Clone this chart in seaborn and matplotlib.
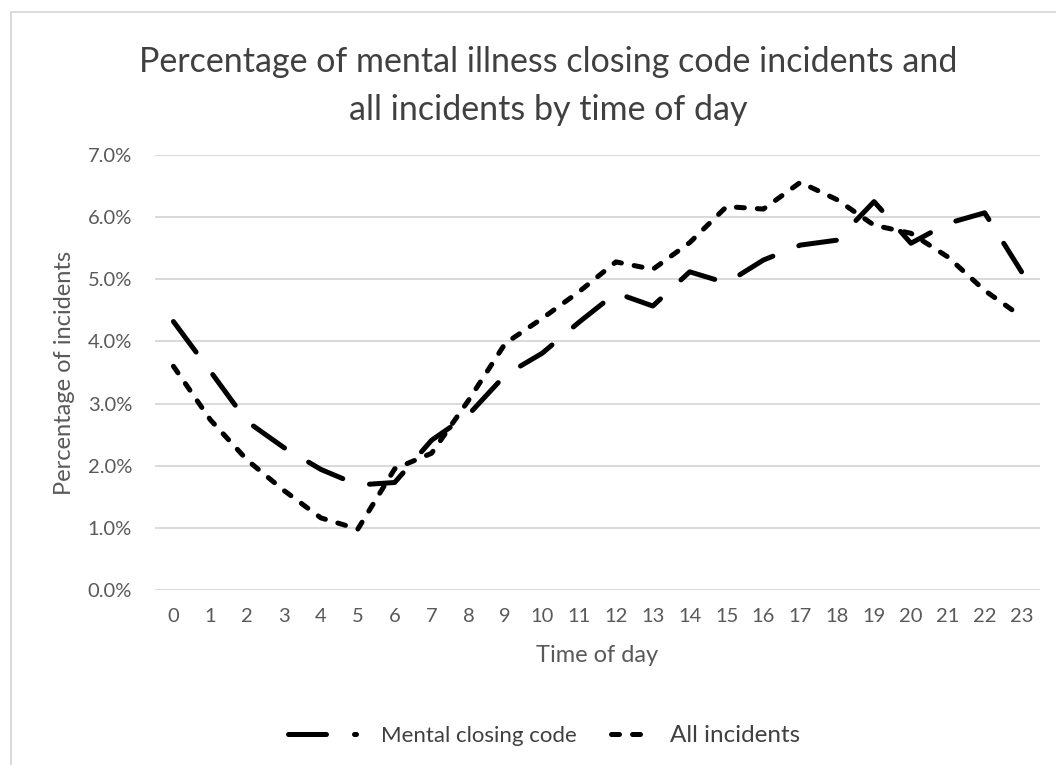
import matplotlib.pyplot as plt
import matplotlib.patches as patches
import pandas as pd
import seaborn as sns
from matplotlib.lines import Line2D
from matplotlib.ticker import PercentFormatter

# hourly share of incidents (%)
hours = list(range(24))
mental = [4.32, 3.52, 2.71, 2.29, 1.94, 1.69, 1.73, 2.41, 2.82, 3.46, 3.81, 4.31,
          4.78, 4.57, 5.12, 4.94, 5.31, 5.55, 5.63, 6.25, 5.58, 5.90, 6.07, 5.12]
all_incidents = [3.60, 2.74, 2.09, 1.60, 1.16, 0.98, 1.95, 2.20, 3.05, 3.97, 4.37, 4.80,
                 5.28, 5.16, 5.59, 6.17, 6.13, 6.56, 6.28, 5.87, 5.74, 5.36, 4.82, 4.40]
series_names = ["Mental closing code", "All incidents"]
y_ticks = [0, 1, 2, 3, 4, 5, 6, 7]

title = "Percentage of mental illness closing code incidents and\nall incidents by time of day"

grey = "#595959"
dark = "#404040"
grid = "#d9d9d9"
lw = 3.6


def main():
    df = pd.concat([
        pd.DataFrame({"hour": hours, "pct": mental, "series": series_names[0]}),
        pd.DataFrame({"hour": hours, "pct": all_incidents, "series": series_names[1]}),
    ])

    sns.set_style("white")
    plt.rcParams["font.family"] = ["Lato", "DejaVu Sans"]

    fig = plt.figure(figsize=(10.56, 7.65), dpi=100)
    ax = fig.add_axes([155 / 1056, 1 - 590 / 765, 885 / 1056, 435 / 765])

    sns.lineplot(
        data=df, x="hour", y="pct", style="series", style_order=series_names,
        dashes={series_names[0]: (7.6, 5.6), series_names[1]: (1.6, 2.6)},
        color="black", lw=lw, legend=False, ax=ax,
    )
    for line in ax.lines:
        line.set_dash_capstyle("round")
        line.set_dash_joinstyle("round")

    ax.set_xlim(-0.5, 23.5)
    ax.set_ylim(0, 7)
    ax.set_xticks(hours)
    ax.set_yticks(y_ticks)
    ax.yaxis.set_major_formatter(PercentFormatter(xmax=100, decimals=1))
    ax.yaxis.grid(True, color=grid, lw=1.4)
    ax.xaxis.grid(False)
    ax.set_axisbelow(True)
    for s in ax.spines.values():
        s.set_visible(False)
    ax.tick_params(axis="x", length=0, labelsize=14.5, colors=grey, pad=13)
    ax.tick_params(axis="y", length=0, labelsize=14.5, colors=grey, pad=16.5)

    ax.set_xlabel("Time of day", fontsize=17, color=grey)
    ax.xaxis.set_label_coords(0.5, -0.127)
    ax.set_ylabel("Percentage of incidents", fontsize=17, color=grey)
    ax.yaxis.set_label_coords(-0.09, 0.5)

    fig.text(0.519, 1 - 86 / 765, title, ha="center", va="center",
             fontsize=24.5, color=dark, linespacing=1.6)

    # chart area border (cropped at right and bottom)
    fig.add_artist(patches.Rectangle(
        (11 / 1056, -0.1), 1.2, 1 - 12 / 765 + 0.1, transform=fig.transFigure,
        fill=False, edgecolor=grid, lw=1.4))

    h1 = Line2D([], [], color="black", lw=lw, linestyle=(0, (7.6, 5.6)),
                dash_capstyle="round")
    h2 = Line2D([], [], color="black", lw=lw, linestyle=(7.8, (1.6, 2.6, 1.6, 8.8)),
                dash_capstyle="round")
    leg = fig.legend([h1, h2], series_names, loc="center",
                     bbox_to_anchor=(0.515, 1 - 735 / 765), ncol=2, frameon=False,
                     handlelength=3.1, handletextpad=1.1, columnspacing=0.0,
                     fontsize=16)
    leg.get_texts()[1].set_fontsize(17.5)
    for t in leg.get_texts():
        t.set_color(dark)

    fig.savefig("out.png", dpi=100)


if __name__ == "__main__":
    main()
